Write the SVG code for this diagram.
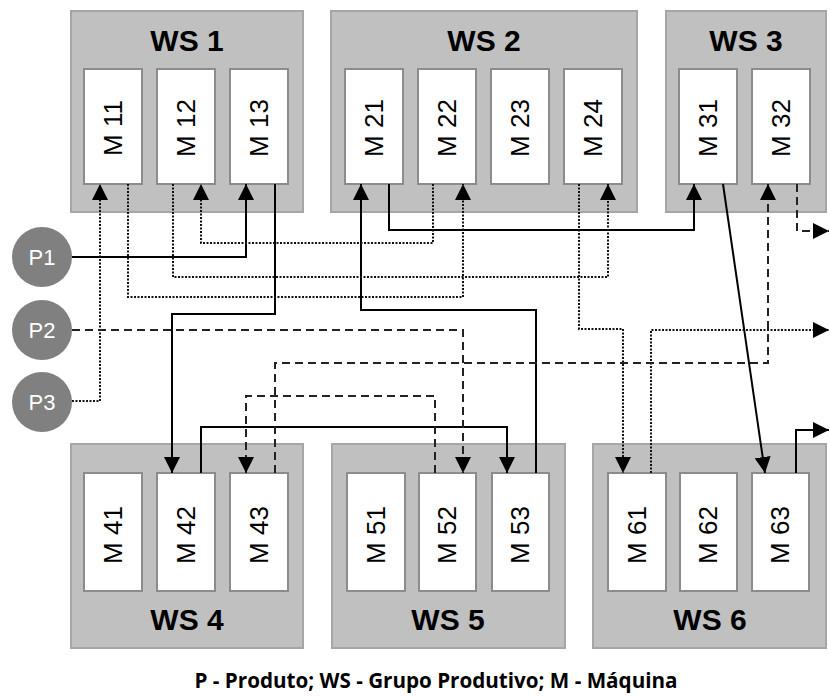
<svg xmlns="http://www.w3.org/2000/svg" width="830" height="697" viewBox="0 0 830 697">
<style>
.ws{fill:#c0c0c0;stroke:#a6a6a6;stroke-width:2}
.m{fill:#fff;stroke:#8c8c8c;stroke-width:2}
.wl{font-family:"Liberation Sans",Arial,sans-serif;font-weight:bold;font-size:30px;text-anchor:middle;fill:#000}
.ml{font-family:"Liberation Sans",Arial,sans-serif;font-size:26px;text-anchor:middle;fill:#000}
.p{fill:#808080}
.pl{font-family:"Liberation Sans",Arial,sans-serif;font-size:22px;text-anchor:middle;fill:#fff}
.c{fill:none;stroke:#000;stroke-width:2}
.dot{stroke:#111;stroke-dasharray:2 1.5}
.dash{stroke:#222;stroke-dasharray:8 5}
.cap{font-family:"Open Sans","Liberation Sans",sans-serif;font-weight:bold;font-size:21px;text-anchor:middle;fill:#000}
</style>
<defs>
<marker id="ah" viewBox="0 0 14 14" refX="14" refY="7" markerWidth="16" markerHeight="16" markerUnits="userSpaceOnUse" orient="auto">
<path d="M0,0 L14,7 L0,14 z" fill="#000"/>
</marker>
</defs>
<rect width="830" height="697" fill="#fff"/>

<g id="WS1">
<rect class="ws" x="71" y="11" width="232" height="201"/>
<text class="wl" x="187" y="51">WS 1</text>
</g>
<g id="M11"><rect class="m" x="84" y="69" width="58" height="115"/><text class="ml" transform="translate(122,128) rotate(-90)">M 11</text></g>
<g id="M12"><rect class="m" x="157" y="69" width="58" height="115"/><text class="ml" transform="translate(195,128) rotate(-90)">M 12</text></g>
<g id="M13"><rect class="m" x="230" y="69" width="58" height="115"/><text class="ml" transform="translate(268,128) rotate(-90)">M 13</text></g>

<g id="WS2">
<rect class="ws" x="331" y="11" width="306" height="201"/>
<text class="wl" x="484" y="51">WS 2</text>
</g>
<g id="M21"><rect class="m" x="345" y="69" width="58" height="115"/><text class="ml" transform="translate(383,128) rotate(-90)">M 21</text></g>
<g id="M22"><rect class="m" x="418" y="69" width="58" height="115"/><text class="ml" transform="translate(456,128) rotate(-90)">M 22</text></g>
<g id="M23"><rect class="m" x="491" y="69" width="58" height="115"/><text class="ml" transform="translate(529,128) rotate(-90)">M 23</text></g>
<g id="M24"><rect class="m" x="564" y="69" width="58" height="115"/><text class="ml" transform="translate(602,128) rotate(-90)">M 24</text></g>

<g id="WS3">
<rect class="ws" x="666" y="11" width="160" height="201"/>
<text class="wl" x="746" y="51">WS 3</text>
</g>
<g id="M31"><rect class="m" x="679" y="69" width="58" height="115"/><text class="ml" transform="translate(717,128) rotate(-90)">M 31</text></g>
<g id="M32"><rect class="m" x="752" y="69" width="58" height="115"/><text class="ml" transform="translate(790,128) rotate(-90)">M 32</text></g>

<g id="WS4">
<rect class="ws" x="71" y="444" width="232" height="204"/>
<text class="wl" x="187" y="630">WS 4</text>
</g>
<g id="M41"><rect class="m" x="84" y="473" width="58" height="118"/><text class="ml" transform="translate(122,535) rotate(-90)">M 41</text></g>
<g id="M42"><rect class="m" x="157" y="473" width="58" height="118"/><text class="ml" transform="translate(195,535) rotate(-90)">M 42</text></g>
<g id="M43"><rect class="m" x="230" y="473" width="58" height="118"/><text class="ml" transform="translate(268,535) rotate(-90)">M 43</text></g>

<g id="WS5">
<rect class="ws" x="332" y="444" width="233" height="204"/>
<text class="wl" x="448" y="630">WS 5</text>
</g>
<g id="M51"><rect class="m" x="347" y="473" width="58" height="118"/><text class="ml" transform="translate(385,535) rotate(-90)">M 51</text></g>
<g id="M52"><rect class="m" x="419" y="473" width="57" height="118"/><text class="ml" transform="translate(456,535) rotate(-90)">M 52</text></g>
<g id="M53"><rect class="m" x="492" y="473" width="57" height="118"/><text class="ml" transform="translate(529,535) rotate(-90)">M 53</text></g>

<g id="WS6">
<rect class="ws" x="593" y="444" width="233" height="204"/>
<text class="wl" x="710" y="630">WS 6</text>
</g>
<g id="M61"><rect class="m" x="608" y="473" width="58" height="118"/><text class="ml" transform="translate(646,535) rotate(-90)">M 61</text></g>
<g id="M62"><rect class="m" x="680" y="473" width="57" height="118"/><text class="ml" transform="translate(717,535) rotate(-90)">M 62</text></g>
<g id="M63"><rect class="m" x="752" y="473" width="57" height="118"/><text class="ml" transform="translate(789,535) rotate(-90)">M 63</text></g>

<g id="P1"><circle class="p" cx="42" cy="257" r="30"/><text class="pl" x="42" y="265">P1</text></g>
<g id="P2"><circle class="p" cx="42" cy="330" r="30"/><text class="pl" x="42" y="338">P2</text></g>
<g id="P3"><circle class="p" cx="42" cy="402" r="30"/><text class="pl" x="42" y="410">P3</text></g>

<g id="connectors">
<path class="c" d="M72,257 H246 V184" marker-end="url(#ah)"/>
<path class="c" d="M275,184 V314 H172 V473" marker-end="url(#ah)"/>
<path class="c" d="M201,473 V427 H507 V473" marker-end="url(#ah)"/>
<path class="c" d="M536,473 V310 H361 V184" marker-end="url(#ah)"/>
<path class="c" d="M389,184 V230 H694 V184" marker-end="url(#ah)"/>
<path class="c" d="M723,184 L765,473" marker-end="url(#ah)"/>
<path class="c" d="M796,473 V430 H829" marker-end="url(#ah)"/>

<path class="c dot" d="M72,401 H100 V184" marker-end="url(#ah)"/>
<path class="c dot" d="M128,184 V297 H463 V184" marker-end="url(#ah)"/>
<path class="c dot" d="M433,184 V243 H201 V184" marker-end="url(#ah)"/>
<path class="c dot" d="M173,184 V277 H608 V184" marker-end="url(#ah)"/>
<path class="c dot" d="M579,184 V329 H623 V473" marker-end="url(#ah)"/>
<path class="c dot" d="M651,473 V330 H829" marker-end="url(#ah)"/>

<path class="c dash" d="M72,330 H463 V473" marker-end="url(#ah)"/>
<path class="c dash" d="M435,473 V396 H246 V473" marker-end="url(#ah)"/>
<path class="c dash" d="M275,473 V363 H768 V184" marker-end="url(#ah)"/>
<path class="c dash" d="M797,184 V231 H829" marker-end="url(#ah)"/>
</g>

<text class="cap" x="436" y="688" textLength="483" lengthAdjust="spacingAndGlyphs">P - Produto; WS - Grupo Produtivo; M - Máquina</text>
</svg>
